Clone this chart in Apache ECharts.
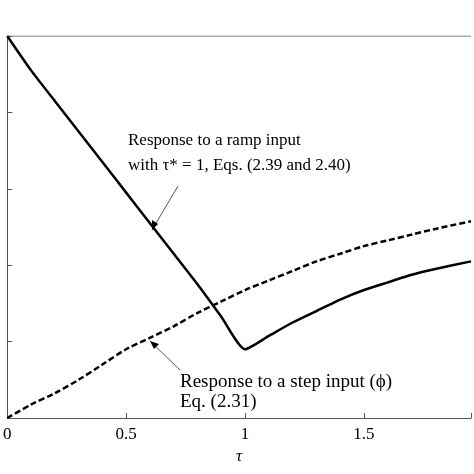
<!DOCTYPE html><html><head><meta charset="utf-8"><script src="https://cdn.jsdelivr.net/npm/echarts@6/dist/echarts.min.js"></script></head><body style="margin:0"><div id="c" style="width:474px;height:474px"></div><script>
const tau=[0,0.1,0.2,0.3,0.4,0.5,0.6,0.7,0.8,0.9,1.0,1.1,1.2,1.3,1.4,1.5,1.6,1.7,1.8,1.95];
const ramp=[1,0.91,0.83,0.75,0.67,0.59,0.51,0.43,0.35,0.265,0.18,0.215,0.25,0.28,0.31,0.335,0.355,0.375,0.39,0.41];
const step=[0,0.035,0.065,0.1,0.14,0.18,0.21,0.24,0.275,0.305,0.335,0.36,0.385,0.41,0.43,0.45,0.465,0.48,0.495,0.515];
const xTicks=['0','0.5','1','1.5'];
const F='Liberation Serif';
const ch=echarts.init(document.getElementById('c'));
ch.setOption({animation:false,
grid:{left:5,right:0,top:36,bottom:56},
xAxis:{type:'value',min:0,max:1.95,interval:0.5,name:'τ',nameLocation:'middle',nameGap:30,nameTextStyle:{fontFamily:F,fontStyle:'italic',fontSize:17,color:'#000'},
 axisLine:{lineStyle:{color:'#555'}},axisTick:{inside:true,length:5,lineStyle:{color:'#555'}},splitLine:{show:false},
 axisLabel:{fontFamily:F,fontSize:17,color:'#000',margin:8,formatter:v=>xTicks.includes(String(v))?String(v):''}},
yAxis:{type:'value',min:0,max:1,interval:0.2,axisLine:{show:true,lineStyle:{color:'#555'}},axisTick:{inside:true,length:5,lineStyle:{color:'#555'}},axisLabel:{show:false},splitLine:{show:false}},
series:[
{type:'line',data:tau.map((t,i)=>[t,ramp[i]]),showSymbol:false,smooth:0.2,lineStyle:{color:'#000',width:2.5}},
{type:'line',data:tau.map((t,i)=>[t,step[i]]),showSymbol:false,smooth:0.3,lineStyle:{color:'#000',width:2.5,type:[6,3]}},
{type:'line',data:[[0,1],[1.95,1]],showSymbol:false,silent:true,lineStyle:{color:'#555',width:1}}
],
graphic:[
{type:'text',left:128,top:132,style:{text:'Response to a ramp input',font:'17px "Liberation Serif"',fill:'#000'}},
{type:'text',left:128,top:157,style:{text:'with τ* = 1, Eqs. (2.39 and 2.40)',font:'17px "Liberation Serif"',fill:'#000'}},
{type:'line',shape:{x1:178,y1:186,x2:152,y2:230},style:{stroke:'#555',lineWidth:1}},
{type:'polygon',shape:{points:[[152,230],[152,220],[158,224]]},style:{fill:'#000'}},
{type:'text',left:180,top:373,style:{text:'Response to a step input (ϕ)',font:'19px "Liberation Serif"',fill:'#000'}},
{type:'text',left:180,top:393,style:{text:'Eq. (2.31)',font:'19px "Liberation Serif"',fill:'#000'}},
{type:'line',shape:{x1:180,y1:370,x2:150,y2:341},style:{stroke:'#555',lineWidth:1}},
{type:'polygon',shape:{points:[[150,341],[159,344],[154,349]]},style:{fill:'#000'}}
]});
</script></body></html>
